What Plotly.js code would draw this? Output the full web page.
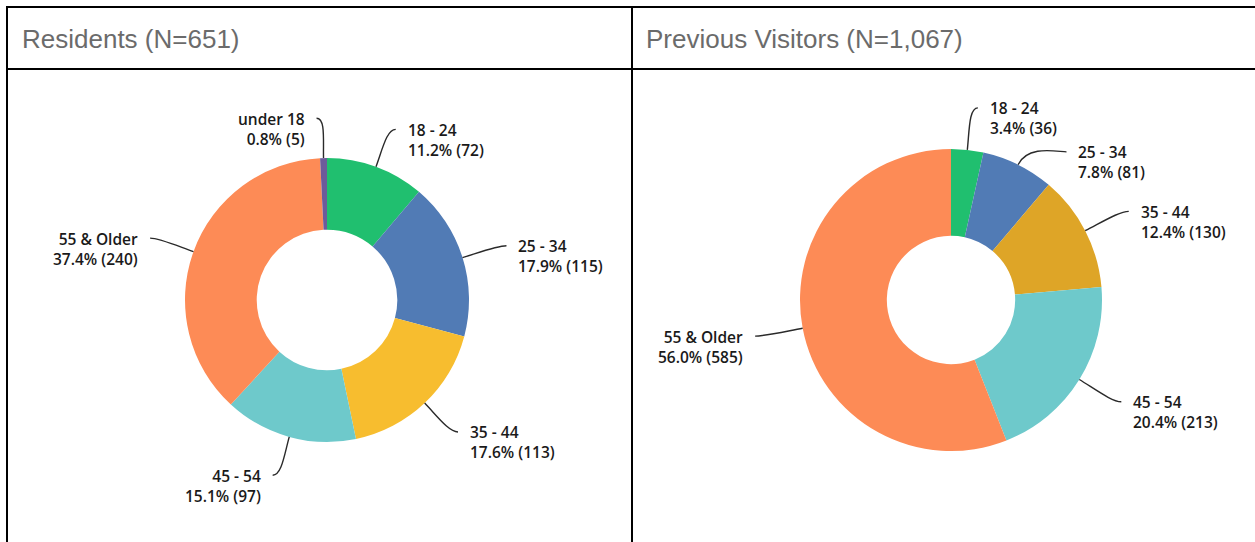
<!DOCTYPE html>
<html>
<head>
<meta charset="utf-8">
<script src="https://cdn.plot.ly/plotly-3.0.1.min.js"></script>
<style>
  html, body { margin: 0; padding: 0; background: #ffffff; }
  #chart { width: 1255px; height: 542px; }
</style>
</head>
<body>
<div id="chart"></div>
<script>
// ---------- DATA ----------
const residentTitle = "Residents (N=651)";
const residentCats = ["18 - 24", "25 - 34", "35 - 44", "45 - 54", "55 & Older", "under 18"];
const residentCounts = [72, 115, 113, 97, 240, 5];
const residentPct = [11.2, 17.9, 17.6, 15.1, 37.4, 0.8];
const residentColors = ["#20BF6F", "#517BB5", "#F7BD2F", "#6EC9CB", "#FD8B56", "#6C5B9B"];

const visitorTitle = "Previous Visitors (N=1,067)";
const visitorCats = ["18 - 24", "25 - 34", "35 - 44", "45 - 54", "55 & Older"];
const visitorCounts = [36, 81, 130, 213, 585];
const visitorPct = [3.4, 7.8, 12.4, 20.4, 56.0];
const visitorColors = ["#20BF6F", "#517BB5", "#DEA527", "#6EC9CB", "#FD8B56"];

// ---------- LAYOUT HELPERS ----------
const W = 1255, H = 542;
const X = px => px / W;
const Y = py => 1 - py / H;

const labelFont = { family: "Open Sans, Inter, sans-serif", size: 15.5, color: "#1a1a1a", weight: 600 };

// pie geometry in pixels
const pies = [
  { cats: residentCats, counts: residentCounts, pct: residentPct, colors: residentColors,
    cx: 327, cy: 300, R: 142, hole: 0.495 },
  { cats: visitorCats, counts: visitorCounts, pct: visitorPct, colors: visitorColors,
    cx: 951, cy: 300, R: 151, hole: 0.425 }
];

const traces = [];
const shapes = [];
const annotations = [];

pies.forEach(p => {
  traces.push({
    type: "pie",
    labels: p.cats,
    values: p.counts,
    sort: false,
    direction: "clockwise",
    rotation: 0,
    hole: p.hole,
    textinfo: "none",
    hoverinfo: "none",
    showlegend: false,
    marker: { colors: p.colors, line: { width: 0 } },
    domain: { x: [X(p.cx - p.R), X(p.cx + p.R)], y: [Y(p.cy + p.R), Y(p.cy - p.R)] }
  });

  const total = p.counts.reduce((a, b) => a + b, 0);
  let cum = 0;
  const items = [];
  p.counts.forEach((c, i) => {
    const frac = c / total;
    const mid = (cum + frac / 2) * 2 * Math.PI;
    cum += frac;
    const dx = Math.sin(mid), dy = -Math.cos(mid);
    const side = dx >= 0 ? 1 : -1;
    items.push({
      i, side, dx, dy,
      A: [p.cx + p.R * dx, p.cy + p.R * dy],
      P: [p.cx + 1.28 * p.R * dx, p.cy + 1.28 * p.R * dy]
    });
  });
  // simple collision avoidance per side
  [1, -1].forEach(s => {
    const list = items.filter(it => it.side === s).sort((a, b) => a.P[1] - b.P[1]);
    for (let k = 1; k < list.length; k++) {
      const prev = list[k - 1], cur = list[k];
      if (cur.P[1] - prev.P[1] < 44) {
        const ny = prev.P[1] + 44;
        const r2 = 1.22 * p.R;
        const ddy = ny - p.cy;
        cur.P = [p.cx + s * Math.sqrt(Math.max(0, r2 * r2 - ddy * ddy)), ny];
      }
    }
  });
  items.forEach(it => {
    const E = [it.P[0] + it.side * 6, it.P[1]];
    const len = Math.hypot(E[0] - it.A[0], E[1] - it.A[1]);
    const C1 = [it.A[0] + it.dx * len * 0.45, it.A[1] + it.dy * len * 0.45];
    const C2 = [E[0] - it.side * 9, E[1]];
    shapes.push({
      type: "path", xref: "paper", yref: "paper",
      path: `M ${X(it.A[0])} ${Y(it.A[1])} C ${X(C1[0])} ${Y(C1[1])}, ${X(C2[0])} ${Y(C2[1])}, ${X(E[0])} ${Y(E[1])}`,
      line: { color: "#2a2a2a", width: 1.4 }
    });
    annotations.push({
      xref: "paper", yref: "paper", showarrow: false,
      x: X(E[0] + it.side * 10), y: Y(E[1] + 10.4),
      xanchor: it.side > 0 ? "left" : "right", yanchor: "middle",
      align: it.side > 0 ? "left" : "right",
      text: `${p.cats[it.i]}<br>${p.pct[it.i].toFixed(1)}% (${p.counts[it.i]})`,
      font: labelFont
    });
  });
});

// headers
const headerFont = { family: "Liberation Sans, Arial, Helvetica, sans-serif", size: 26, color: "#6b6b6b" };
annotations.push({ xref: "paper", yref: "paper", showarrow: false, x: X(20), y: Y(39),
  xanchor: "left", yanchor: "middle", text: residentTitle, font: headerFont });
annotations.push({ xref: "paper", yref: "paper", showarrow: false, x: X(644), y: Y(39),
  xanchor: "left", yanchor: "middle", text: visitorTitle, font: headerFont });

// table borders
const border = { color: "#000000", width: 2 };
shapes.push({ type: "line", xref: "paper", yref: "paper", x0: X(6), x1: 1, y0: Y(7), y1: Y(7), line: border });
shapes.push({ type: "line", xref: "paper", yref: "paper", x0: X(6), x1: 1, y0: Y(69), y1: Y(69), line: border });
shapes.push({ type: "line", xref: "paper", yref: "paper", x0: X(7), x1: X(7), y0: Y(6), y1: 0, line: border });
shapes.push({ type: "line", xref: "paper", yref: "paper", x0: X(632), x1: X(632), y0: Y(6), y1: 0, line: border });

const layout = {
  width: W, height: H,
  margin: { l: 0, r: 0, t: 0, b: 0 },
  paper_bgcolor: "#ffffff",
  plot_bgcolor: "#ffffff",
  showlegend: false,
  shapes, annotations
};

Plotly.newPlot("chart", traces, layout, { displayModeBar: false, staticPlot: true });
</script>
</body>
</html>
